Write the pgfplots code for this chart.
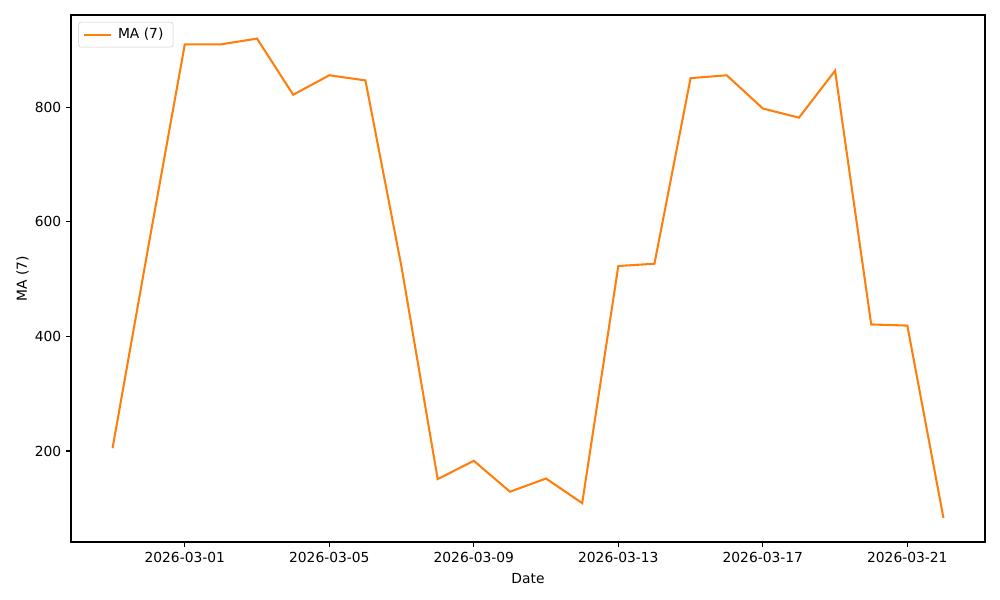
\documentclass[border=0pt]{standalone}
\usepackage{fontspec}
\setmainfont{DejaVu Sans}
\usepackage{pgfplots}
\pgfplotsset{compat=1.18}
\definecolor{mplorange}{HTML}{FF7F0E}
\begin{document}
\begin{tikzpicture}
\begin{axis}[
  scale only axis,
  width=9.14in, height=5.27in,
  at={(0,0)}, anchor=south west,
  xmin=-3.15, xmax=22.15,
  ymin=41.2, ymax=961.2,
  xtick={0,4,8,12,16,20},
  xticklabels={2026-03-01,2026-03-05,2026-03-09,2026-03-13,2026-03-17,2026-03-21},
  ytick={200,400,600,800},
  /pgf/number format/assume math mode=true,
  tick label style={font=\fontsize{10}{12}\selectfont, text=black},
  label style={font=\fontsize{10}{12}\selectfont},
  tick align=outside,
  tick pos=left,
  major tick length=3.5pt,
  every tick/.style={black, line width=0.8pt},
  axis line style={line width=0.8pt},
  xlabel={Date}, ylabel={MA (7)},
  xlabel style={at={(axis description cs:0.5,0)}, anchor=north, yshift=-19pt},
  ylabel style={at={(axis description cs:0,0.5)}, anchor=south, yshift=27pt},
  legend style={font=\fontsize{10}{12}\selectfont, draw=black!20, rounded corners=2pt,
    at={(0.008,0.987)}, anchor=north west, inner xsep=3pt, inner ysep=2.5pt,
    nodes={inner xsep=4pt}},
  legend cell align=left,
  legend image code/.code={\draw[#1, line width=1.5pt] (0pt,0pt) -- (20pt,0pt);},
]
\addplot[mplorange, line width=1.5pt] table {
x y
-2 205
-1 560
0 910
1 910
2 920
3 822
4 856
5 847
6 521
7 151
8 183
9 129
10 152
11 109
12 523
13 527
14 851
15 856
16 798
17 782
18 864
19 421
20 419
21 83
};
\addlegendentry{MA (7)}
\end{axis}
\pgfresetboundingbox
\path (-0.71in,-0.58in) rectangle (9.29in,5.42in);
\end{tikzpicture}
\end{document}
